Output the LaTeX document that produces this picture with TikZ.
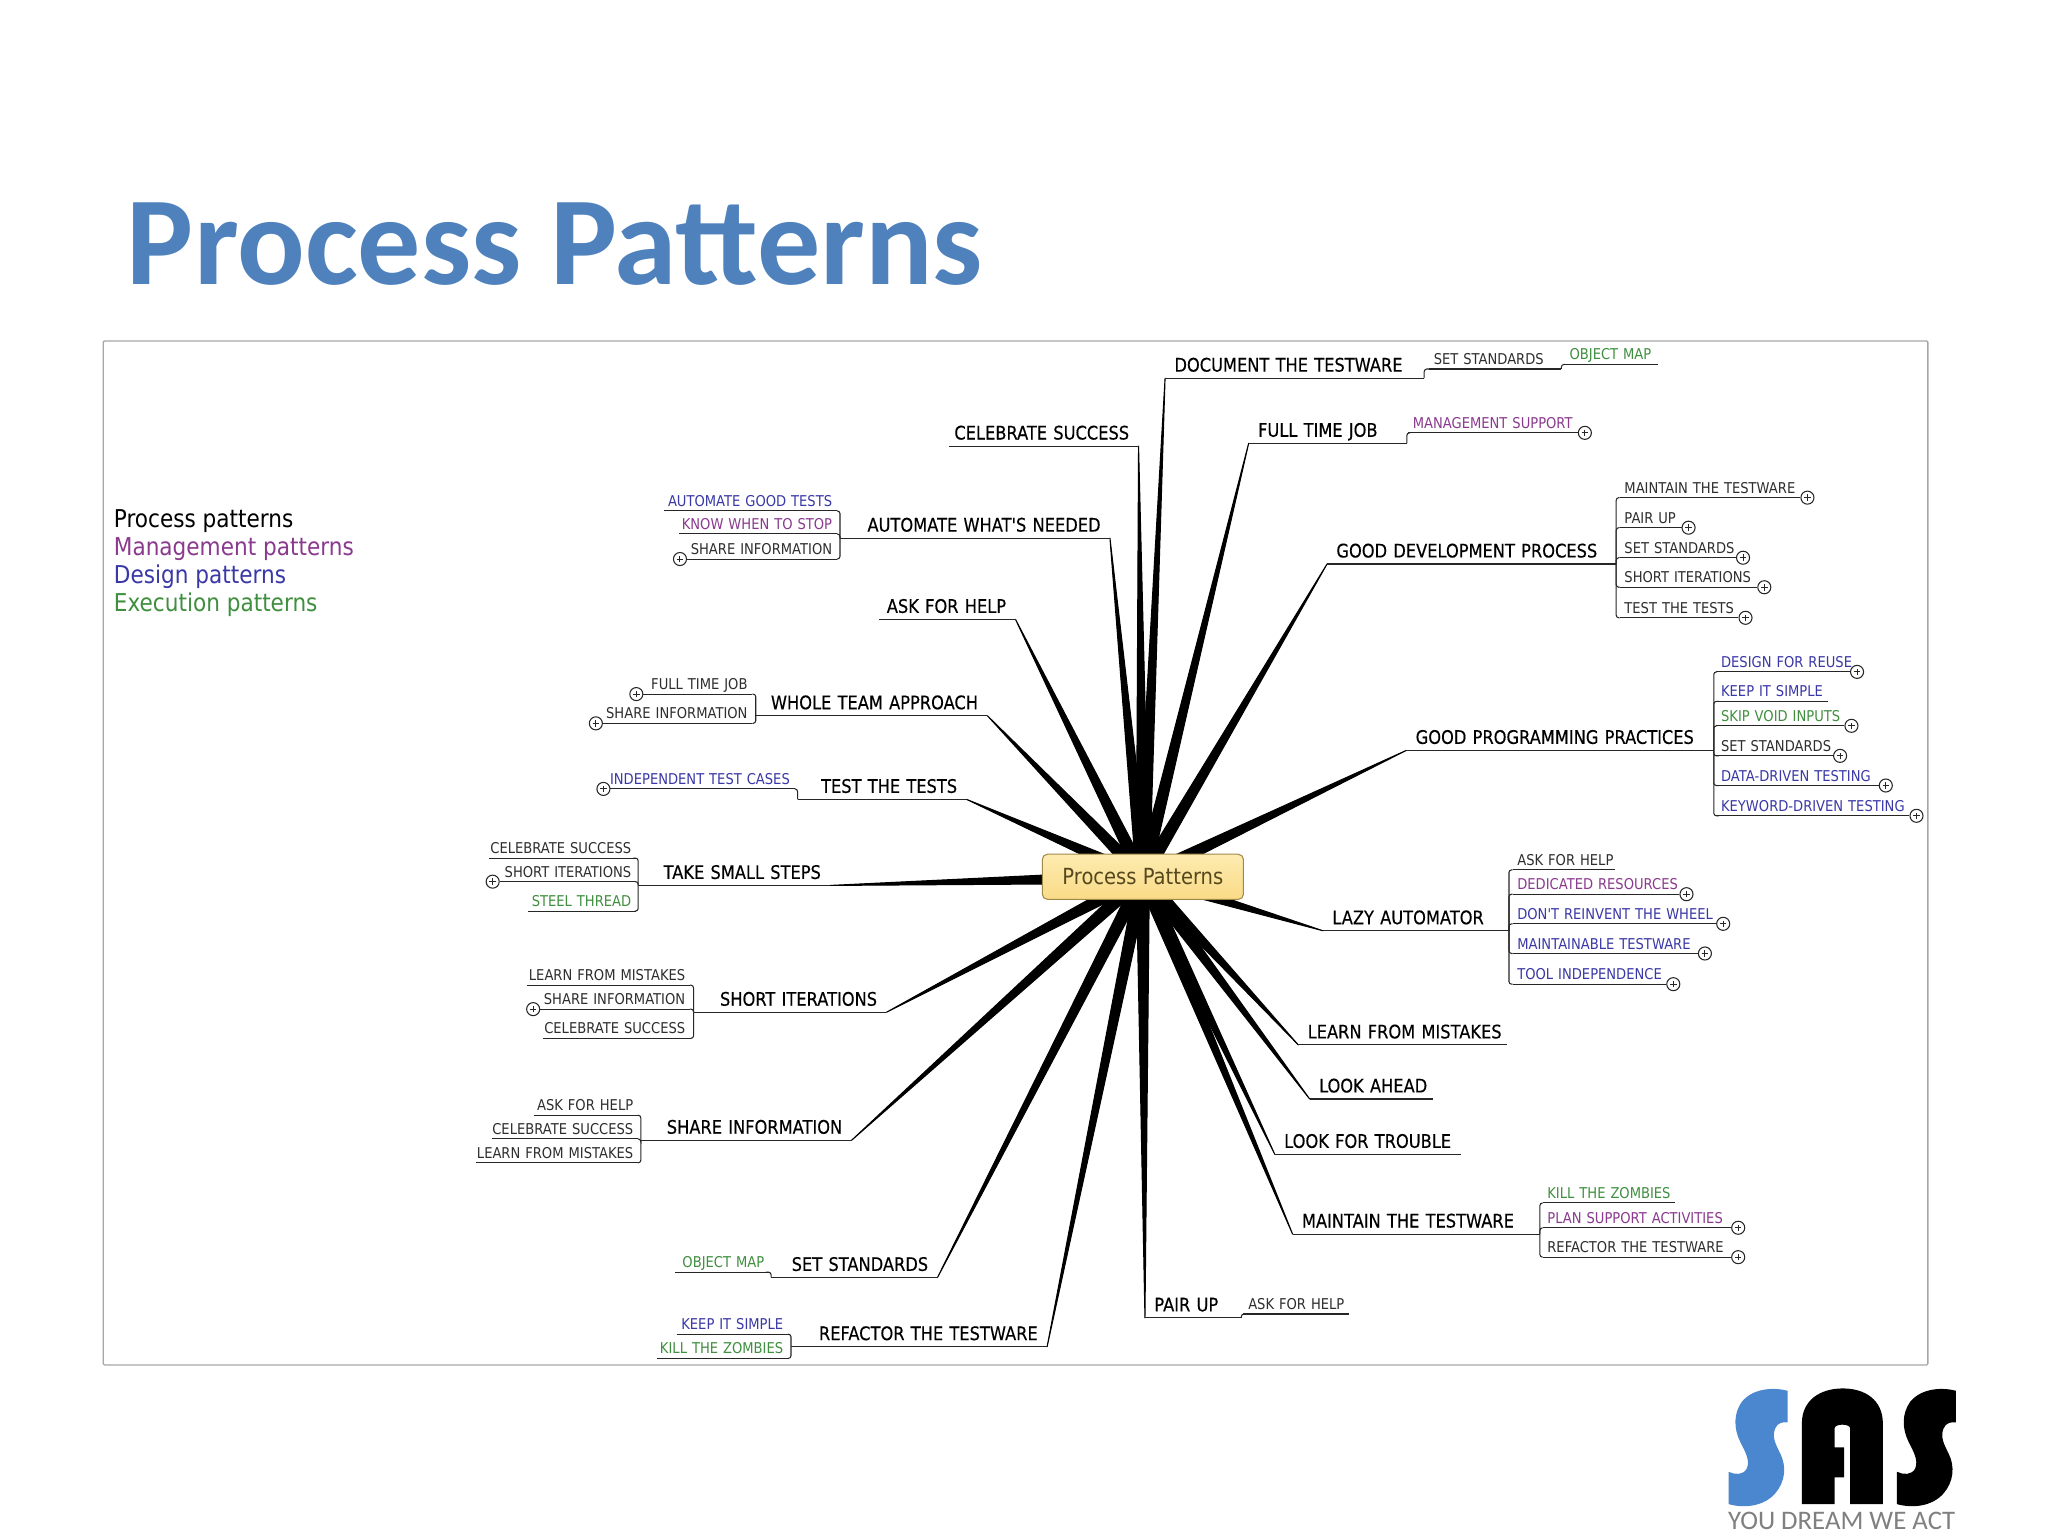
\documentclass[tikz,border=0pt]{standalone}
\usepackage{fontspec}
\usetikzlibrary{positioning,calc,backgrounds}
\newfontfamily\mapfont[FakeStretch=.88]{DejaVu Sans}
\newfontfamily\topicfont[FakeStretch=.87,FakeBold=.3]{DejaVu Sans}
\newfontfamily\slidefont{Carlito}
\definecolor{titleblue}{HTML}{4F81BD}
\definecolor{logoblue}{HTML}{4A87CE}
\definecolor{framegray}{HTML}{A6A6A6}
\definecolor{pblack}{HTML}{2E2E2E}
\definecolor{pmanage}{HTML}{8A3A8E}
\definecolor{pdesign}{HTML}{3A38A6}
\definecolor{pexec}{HTML}{3F8F3F}
\definecolor{rootink}{HTML}{54481C}
\definecolor{roottop}{HTML}{FDEBB0}
\definecolor{rootbot}{HTML}{FADB87}
\definecolor{rootedge}{HTML}{A08A4A}
\newcommand{\spoke}[1]{\filldraw[line width=.8pt,line join=round] ($(root.center)!5pt!90:(#1)$) -- (#1) -- ($(root.center)!5pt!-90:(#1)$) -- cycle;}
\begin{document}
\begin{tikzpicture}[x=1pt,y=-1pt]

	\tikzset{%
		uline/.style = {draw=black!85, line width=.8pt},
		under/.style = {append after command={(\tikzlastnode.south west) edge[uline] (\tikzlastnode.south east)}},
		tpc/.style   = {font=\topicfont\fontsize{14.3}{16}\selectfont, text=black, text height=10.5pt, text depth=0pt, inner ysep=4.8pt, inner xsep=0pt, text width=#1, under},
		tpcr/.style  = {tpc=#1, anchor=south west, align=left, execute at begin node=\leavevmode\kern7pt, execute at end node=\kern-30pt},   % topic right of root
		tpcl/.style  = {tpc=#1, anchor=south east, align=right, execute at begin node=\leavevmode\kern-30pt, execute at end node=\kern7pt},  % topic left of root
		leaf/.style  = {font=\mapfont\fontsize{11.4}{13}\selectfont, text=pblack, text height=8.4pt, text depth=0pt, inner ysep=3.2pt, inner xsep=0pt, text width=#1, under},
		leafr/.style = {leaf=#1, anchor=south west, align=left, execute at begin node=\leavevmode\kern3.5pt, execute at end node=\kern-30pt},
		leafl/.style = {leaf=#1, anchor=south east, align=right, execute at begin node=\leavevmode\kern-30pt, execute at end node=\kern3.5pt},
		stem/.style  = {draw=black!85, line width=.8pt, rounded corners=2pt},
		plus/.style  = {circle, draw=black!85, line width=.8pt, minimum size=10pt, inner sep=0pt, fill=white,
			path picture={\draw[line width=.8pt] (path picture bounding box.center) +(-2.5pt,0) -- +(2.5pt,0) +(0,-2.5pt) -- +(0,2.5pt);}},
		lgd/.style   = {font=\mapfont\fontsize{18.8}{21}\selectfont, inner sep=0pt, text height=13pt, text depth=8pt}
	}

	\path[use as bounding box] (0,0) rectangle (1568,1176);

	\node[anchor=base west, inner sep=0pt, font=\slidefont\bfseries\fontsize{96.5}{100}\selectfont, text=titleblue] (title) at (97,217.5) {Process Patterns};
	\draw[framegray, line width=1pt, rounded corners=1pt] (79,261) rectangle (1476,1045);

	% legend
	\node[lgd, anchor=base west, text=black] (lgproc) at (87,403.7) {Process patterns};
	\node[lgd, below=0pt of lgproc.south west, anchor=north west, text=pmanage] (lgman) {Management patterns};
	\node[lgd, below=0pt of lgman.south west, anchor=north west, text=pdesign] (lgdes) {Design patterns};
	\node[lgd, below=0pt of lgdes.south west, anchor=north west, text=pexec] (lgexe) {Execution patterns};

	% root
	\node[draw=rootedge, line width=.8pt, rounded corners=4pt, minimum width=154pt, minimum height=34.6pt, inner sep=0pt,
		top color=roottop, bottom color=rootbot, font=\mapfont\fontsize{17}{19}\selectfont, text=rootink] (root) at (875,671.3) {Process Patterns};

	% topics right
	\node[tpcr=198] (doc) at (892,289.5) {DOCUMENT THE TESTWARE};
	\node[tpcr=120.7] (ftj) at (956,339.4) {FULL TIME JOB};
	\node[tpcr=221] (gdp) at (1016,431.8) {GOOD DEVELOPMENT PROCESS};
	\node[tpcr=235] (gpp) at (1076.7,574.5) {GOOD PROGRAMMING PRACTICES};
	\node[tpcr=142] (lazy) at (1012.9,712.6) {LAZY AUTOMATOR};
	\node[tpcr=159.5] (lfm) at (994,800) {LEARN FROM MISTAKES};
	\node[tpcr=93.7] (look) at (1002.7,841.4) {LOOK AHEAD};
	\node[tpcr=142] (lft) at (976,883.8) {LOOK FOR TROUBLE};
	\node[tpcr=189] (mtt) at (989.6,944.8) {MAINTAIN THE TESTWARE};
	\node[tpcr=73.4] (pair) at (876.6,1009) {PAIR UP};

	% topics left
	\node[tpcl=144.7] (cel) at (871.7,341.5) {CELEBRATE SUCCESS};
	\node[tpcl=206.3] (awn) at (849.8,412) {AUTOMATE WHAT'S NEEDED};
	\node[tpcl=104] (afh) at (777.5,474.2) {ASK FOR HELP};
	\node[tpcl=177] (wta) at (756,548) {WHOLE TEAM APPROACH};
	\node[tpcl=129] (ttt) at (740,612) {TEST THE TESTS};
	\node[tpcl=146.7] (tss) at (635.7,677.9) {TAKE SMALL STEPS};
	\node[tpcl=147.3] (sit) at (678.7,775) {SHORT ITERATIONS};
	\node[tpcl=161] (sinf) at (652,873) {SHARE INFORMATION};
	\node[tpcl=127] (sst) at (717.8,978) {SET STANDARDS};
	\node[tpcl=195.7] (rtt) at (801.7,1031) {REFACTOR THE TESTWARE};

	% leaves right
	\node[leafr=101] (doc1) at (1094,282.5) {SET STANDARDS};
	\node[leafr=71, text=pexec] (doc2) at (1198,279) {OBJECT MAP};
	\node[leafr=129.6, text=pmanage] (ftj1) at (1078,331.4) {MANAGEMENT SUPPORT};
	\node[leafr=138] (gdp1) at (1240,381) {MAINTAIN THE TESTWARE};
	\node[leafr=47] (gdp2) at (1240,404) {PAIR UP};
	\node[leafr=88.7] (gdp3) at (1240,427) {SET STANDARDS};
	\node[leafr=105] (gdp4) at (1240,449.6) {SHORT ITERATIONS};
	\node[leafr=90.6] (gdp5) at (1240,473) {TEST THE TESTS};
	\node[leafr=102, text=pdesign] (gpp1) at (1314,514.4) {DESIGN FOR REUSE};
	\node[leafr=85.5, text=pdesign] (gpp2) at (1314,537) {KEEP IT SIMPLE};
	\node[leafr=97.7, text=pexec] (gpp3) at (1314,555.7) {SKIP VOID INPUTS};
	\node[leafr=89] (gpp4) at (1314,578.7) {SET STANDARDS};
	\node[leafr=124, text=pdesign] (gpp5) at (1314,601.4) {DATA-DRIVEN TESTING};
	\node[leafr=147.5, text=pdesign] (gpp6) at (1314,624.6) {KEYWORD-DRIVEN TESTING};
	\node[leafr=78.3] (lazy1) at (1158,666) {ASK FOR HELP};
	\node[leafr=127.4, text=pmanage] (lazy2) at (1158,684.6) {DEDICATED RESOURCES};
	\node[leafr=155.5, text=pdesign] (lazy3) at (1158,707.3) {DON'T REINVENT THE WHEEL};
	\node[leafr=141.5, text=pdesign] (lazy4) at (1158,730) {MAINTAINABLE TESTWARE};
	\node[leafr=117.3, text=pdesign] (lazy5) at (1158,753.5) {TOOL INDEPENDENCE};
	\node[leafr=101, text=pexec] (mtt1) at (1181,921) {KILL THE ZOMBIES};
	\node[leafr=144, text=pmanage] (mtt2) at (1181,940) {PLAN SUPPORT ACTIVITIES};
	\node[leafr=144] (mtt3) at (1181,962.5) {REFACTOR THE TESTWARE};
	\node[leafr=80.6] (pair1) at (952,1006) {ASK FOR HELP};

	% leaves left
	\node[leafl=132, text=pdesign] (awn1) at (640.8,391.2) {AUTOMATE GOOD TESTS};
	\node[leafl=120.3, text=pmanage] (awn2) at (640.8,408.8) {KNOW WHEN TO STOP};
	\node[leafl=114.4] (awn3) at (640.8,428) {SHARE INFORMATION};
	\node[leafl=83] (wta1) at (576,531.4) {FULL TIME JOB};
	\node[leafl=114] (wta2) at (576,553.8) {SHARE INFORMATION};
	\node[leafl=140.6, text=pdesign] (ttt1) at (608.4,604) {INDEPENDENT TEST CASES};
	\node[leafl=112.2] (tss1) at (487,657) {CELEBRATE SUCCESS};
	\node[leafl=104] (tss2) at (487,675) {SHORT ITERATIONS};
	\node[leafl=82, text=pexec] (tss3) at (487,697.5) {STEEL THREAD};
	\node[leafl=124.3] (sit1) at (528.3,754.3) {LEARN FROM MISTAKES};
	\node[leafl=114.3] (sit2) at (528.3,772.6) {SHARE INFORMATION};
	\node[leafl=112.3] (sit3) at (528.3,795) {CELEBRATE SUCCESS};
	\node[leafl=79.5] (sinf1) at (488.5,853.8) {ASK FOR HELP};
	\node[leafl=111.8] (sinf2) at (488.5,872) {CELEBRATE SUCCESS};
	\node[leafl=123.5] (sinf3) at (488.5,890.3) {LEARN FROM MISTAKES};
	\node[leafl=71.4, text=pexec] (sst1) at (588.8,974) {OBJECT MAP};
	\node[leafl=84.8, text=pdesign] (rtt1) at (603.3,1021.5) {KEEP IT SIMPLE};
	\node[leafl=99.6, text=pexec] (rtt2) at (603.3,1040) {KILL THE ZOMBIES};

	% plus marks
	\node[plus, right=0pt of ftj1.south east] (ftj1p) {};
	\node[plus, right=0pt of gdp1.south east] (gdp1p) {};
	\node[plus, right=0pt of gdp2.south east] (gdp2p) {};
	\node[plus, right=0pt of gdp3.south east] (gdp3p) {};
	\node[plus, right=0pt of gdp4.south east] (gdp4p) {};
	\node[plus, right=0pt of gdp5.south east] (gdp5p) {};
	\node[plus, right=0pt of gpp1.south east] (gpp1p) {};
	\node[plus, right=0pt of gpp3.south east] (gpp3p) {};
	\node[plus, right=0pt of gpp4.south east] (gpp4p) {};
	\node[plus, right=0pt of gpp5.south east] (gpp5p) {};
	\node[plus, right=0pt of gpp6.south east] (gpp6p) {};
	\node[plus, right=0pt of lazy2.south east] (lazy2p) {};
	\node[plus, right=0pt of lazy3.south east] (lazy3p) {};
	\node[plus, right=0pt of lazy4.south east] (lazy4p) {};
	\node[plus, right=0pt of lazy5.south east] (lazy5p) {};
	\node[plus, right=0pt of mtt2.south east] (mtt2p) {};
	\node[plus, right=0pt of mtt3.south east] (mtt3p) {};
	\node[plus, left=0pt of awn3.south west] (awn3p) {};
	\node[plus, left=0pt of wta1.south west] (wta1p) {};
	\node[plus, left=0pt of wta2.south west] (wta2p) {};
	\node[plus, left=0pt of ttt1.south west] (ttt1p) {};
	\node[plus, left=0pt of tss2.south west] (tss2p) {};
	\node[plus, left=0pt of sit2.south west] (sit2p) {};

	% stems to the leaves
	\draw[stem] (doc.south east) |- (doc1.south west);
	\draw[stem] (doc1.south east) |- (doc2.south west);
	\draw[stem] (ftj.south east) |- (ftj1.south west);
	\draw[stem] (gdp.south east) |- (gdp1.south west);
	\draw[stem] (gdp.south east) |- (gdp2.south west);
	\draw[stem] (gdp.south east) |- (gdp3.south west);
	\draw[stem] (gdp.south east) |- (gdp4.south west);
	\draw[stem] (gdp.south east) |- (gdp5.south west);
	\draw[stem] (gpp.south east) |- (gpp1.south west);
	\draw[stem] (gpp.south east) |- (gpp2.south west);
	\draw[stem] (gpp.south east) |- (gpp3.south west);
	\draw[stem] (gpp.south east) |- (gpp4.south west);
	\draw[stem] (gpp.south east) |- (gpp5.south west);
	\draw[stem] (gpp.south east) |- (gpp6.south west);
	\draw[stem] (lazy.south east) |- (lazy1.south west);
	\draw[stem] (lazy.south east) |- (lazy2.south west);
	\draw[stem] (lazy.south east) |- (lazy3.south west);
	\draw[stem] (lazy.south east) |- (lazy4.south west);
	\draw[stem] (lazy.south east) |- (lazy5.south west);
	\draw[stem] (mtt.south east) |- (mtt1.south west);
	\draw[stem] (mtt.south east) |- (mtt2.south west);
	\draw[stem] (mtt.south east) |- (mtt3.south west);
	\draw[stem] (pair.south east) |- (pair1.south west);
	\draw[stem] (awn.south west) |- (awn1.south east);
	\draw[stem] (awn.south west) |- (awn2.south east);
	\draw[stem] (awn.south west) |- (awn3.south east);
	\draw[stem] (wta.south west) |- (wta1.south east);
	\draw[stem] (wta.south west) |- (wta2.south east);
	\draw[stem] (ttt.south west) |- (ttt1.south east);
	\draw[stem] (tss.south west) |- (tss1.south east);
	\draw[stem] (tss.south west) |- (tss2.south east);
	\draw[stem] (tss.south west) |- (tss3.south east);
	\draw[stem] (sit.south west) |- (sit1.south east);
	\draw[stem] (sit.south west) |- (sit2.south east);
	\draw[stem] (sit.south west) |- (sit3.south east);
	\draw[stem] (sinf.south west) |- (sinf1.south east);
	\draw[stem] (sinf.south west) |- (sinf2.south east);
	\draw[stem] (sinf.south west) |- (sinf3.south east);
	\draw[stem] (sst.south west) |- (sst1.south east);
	\draw[stem] (rtt.south west) |- (rtt1.south east);
	\draw[stem] (rtt.south west) |- (rtt2.south east);

	% spokes from the root
	\begin{pgfonlayer}{background}
		\fill[white] (0,0) rectangle (1568,1176);
		\spoke{doc.south west}
		\spoke{ftj.south west}
		\spoke{gdp.south west}
		\spoke{gpp.south west}
		\spoke{lazy.south west}
		\spoke{lfm.south west}
		\spoke{look.south west}
		\spoke{lft.south west}
		\spoke{mtt.south west}
		\spoke{pair.south west}
		\spoke{cel.south east}
		\spoke{awn.south east}
		\spoke{afh.south east}
		\spoke{wta.south east}
		\spoke{ttt.south east}
		\spoke{tss.south east}
		\spoke{sit.south east}
		\spoke{sinf.south east}
		\spoke{sst.south east}
		\spoke{rtt.south east}
	\end{pgfonlayer}

	% logo
	\begin{scope}[shift={(1301.7,1041.3)},x=.2552pt,y=-.2552pt]
		\fill[logoblue] (262,92) .. controls (225,82) and (160,82) .. (125,125) .. controls (100,160) and (100,205) .. (120,245) .. controls (135,275) and (150,300) .. (140,325) .. controls (130,345) and (105,345) .. (85,335) -- (85,432) .. controls (130,445) and (190,440) .. (225,400) .. controls (255,365) and (260,320) .. (240,280) .. controls (225,250) and (215,230) .. (225,205) .. controls (232,187) and (250,185) .. (262,187) -- cycle;
		\fill[black, xshift=128.9pt] (262,92) .. controls (225,82) and (160,82) .. (125,125) .. controls (100,160) and (100,205) .. (120,245) .. controls (135,275) and (150,300) .. (140,325) .. controls (130,345) and (105,345) .. (85,335) -- (85,432) .. controls (130,445) and (190,440) .. (225,400) .. controls (255,365) and (260,320) .. (240,280) .. controls (225,250) and (215,230) .. (225,205) .. controls (232,187) and (250,185) .. (262,187) -- cycle;
		\fill[black] (305,432) -- (305,190) .. controls (305,120) and (360,85) .. (428,85) .. controls (495,85) and (548,120) .. (548,190) -- (548,432) -- (450,432) -- (450,205) .. controls (450,190) and (403,190) .. (403,205) -- (403,262) -- (432,262) -- (432,352) -- (403,352) -- (403,432) -- cycle;
	\end{scope}
	\node[anchor=base, inner sep=0pt, font=\slidefont\fontsize{20.5}{22}\selectfont, text=black!50] (motto) at (1410,1171) {YOU DREAM WE ACT};
\end{tikzpicture}
\end{document}
